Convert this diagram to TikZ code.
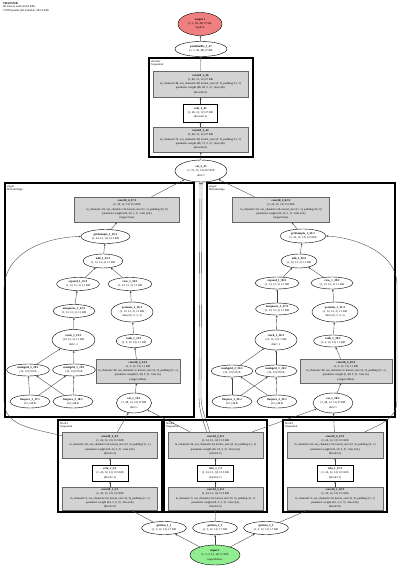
\documentclass[tikz,border=0pt]{standalone}
\usepackage{fontspec}
\setmainfont{Liberation Serif}
\usetikzlibrary{shapes.geometric,arrows.meta,calc}
\definecolor{gfill}{HTML}{D3D3D3}
\definecolor{rfill}{HTML}{F08080}
\definecolor{gnfill}{HTML}{90EE90}
\begin{document}
\begin{tikzpicture}[x=1pt,y=-1pt,
  every node/.style={font=\fontsize{2.9}{4.3}\selectfont, align=center},
  ell/.style={ellipse, draw=black, line width=0.4pt, fill=white, inner sep=0pt},
  gbox/.style={rectangle, draw=black!60, fill=gfill, line width=0.4pt, inner sep=0},
  wbox/.style={rectangle, draw=black, fill=white, line width=0.4pt, inner sep=0.8pt},
  txt/.style={inner sep=0},
  clus/.style={draw=black, line width=1.2pt},
  clab/.style={anchor=north west, inner sep=0, align=left, font=\fontsize{2.9}{3.6}\selectfont},
  edge/.style={draw=black!75, line width=0.35pt, -{Stealth[length=2.2pt,width=1.8pt]}},
]
\path[use as bounding box] (0,0) rectangle (400,567);

% header
\node[clab] (hdr) at (3,2) {\textbf{TRANSWB}\\48 tensors total (433.8 KB)\\72508 params (all trainable, 283.2 KB)};

% clusters
\draw[clus] (149,58) rectangle (253,157);
\node[clab] (declab) at (151,60) {decoder\\Sequential};
\draw[clus] (5,183) rectangle (194,417);
\node[clab] (s1lab) at (7,185) {stage1\\DeformAlign};
\draw[clus] (207,183) rectangle (395,417);
\node[clab] (s2lab) at (209,185) {stage2\\DeformAlign};
\draw[clus] (58,420) rectangle (162,512);
\node[clab] (b1lab) at (60,422) {block1\\Sequential};
\draw[clus] (164,420) rectangle (267,512);
\node[clab] (b2lab) at (166,422) {block2\\Sequential};
\draw[clus] (283,420) rectangle (387,512);
\node[clab] (b3lab) at (285,422) {block3\\Sequential};

% top
\node[ell, fill=rfill, minimum width=44, minimum height=23] (out) at (200,24) {\textbf{output 1}\\(1, 3, 48, 48) 27 KB\\depth:0};
\node[ell, minimum width=52, minimum height=15] (pix) at (201,49) {\textbf{pixelshuffle\_1\_47}\\(1, 3, 48, 48) 27 KB};

% decoder
\node[gbox, minimum width=95, minimum height=26] (dc2) at (200.5,84) {};
\node[txt] (dc2t) at (dc2) {\textbf{conv2d\_3\_46}\\(1, 48, 12, 12) 27 KB\\in\_channels=48, out\_channels=48, kernel\_size=(3, 3), padding=(1, 1)\\parameter weight (48, 48, 3, 3) · bias (48,)\\(decoder.2)};
\node[wbox, minimum width=34, minimum height=18] (dr) at (200.5,113) {\textbf{relu\_2\_45}\\(1, 48, 12, 12) 27 KB\\(decoder.1)};
\node[gbox, minimum width=95, minimum height=25] (dc1) at (200.5,139.5) {};
\node[txt] (dc1t) at (dc1) {\textbf{conv2d\_3\_44}\\(1, 48, 12, 12) 27 KB\\in\_channels=72, out\_channels=48, kernel\_size=(3, 3), padding=(1, 1)\\parameter weight (48, 72, 3, 3) · bias (48,)\\(decoder.0)};
\node[ell, minimum width=52, minimum height=22] (cat2) at (201,171) {\textbf{cat\_2\_43}\\(1, 72, 12, 12) 40.5 KB\\dim=1};

% stage1
\node[gbox, minimum width=105, minimum height=25] (s1c4) at (127,209.5) {};
\node[txt] (s1c4t) at (s1c4) {\textbf{conv2d\_4\_27:1}\\(1, 24, 12, 12) 13.5 KB\\in\_channels=24, out\_channels=24, kernel\_size=(1, 1), padding=(0, 0)\\parameter weight (24, 24, 1, 1) · bias (24,)\\(stage1.fuse)};
\node[ell, minimum width=49, minimum height=14] (s1gs) at (105.5,236.5) {\textbf{gridsample\_1\_26:1}\\(1, 24, 12, 12) 13.5 KB};
\node[ell, minimum width=40, minimum height=14] (s1add) at (103,261) {\textbf{add\_1\_25:1}\\(1, 12, 12, 2) 1.1 KB};
\node[ell, minimum width=43, minimum height=13] (s1exp) at (78,284) {\textbf{expand\_1\_23:1}\\(1, 12, 12, 2) 1.1 KB};
\node[ell, minimum width=44, minimum height=13] (s1view) at (130,284) {\textbf{view\_1\_24:1}\\(1, 12, 12, 2) 1.1 KB};
\node[ell, minimum width=42, minimum height=13] (s1unsq) at (74,311) {\textbf{unsqueeze\_1\_22:1}\\(1, 12, 12, 2) 1.1 KB};
\node[ell, minimum width=42, minimum height=20] (s1perm) at (132,312) {\textbf{permute\_1\_16:1}\\(1, 12, 12, 2) 1.1 KB\\dims=(0, 2, 3, 1)};
\node[ell, minimum width=43, minimum height=21] (s1stack) at (73.5,340) {\textbf{stack\_1\_21:1}\\(12, 12, 2) 1.1 KB\\dim=-1};
\node[ell, minimum width=36, minimum height=13] (s1tanh) at (134,341) {\textbf{tanh\_1\_15:1}\\(1, 2, 12, 12) 1.1 KB};
\node[ell, minimum width=43, minimum height=12] (s1mg1) at (28,370) {\textbf{meshgrid\_2\_20:1}\\(12, 12) 576 B};
\node[ell, minimum width=43, minimum height=12] (s1mg2) at (74,370) {\textbf{meshgrid\_1\_19:1}\\(12, 12) 576 B};
\node[gbox, minimum width=84, minimum height=24] (s1c3) at (138,371) {};
\node[txt] (s1c3t) at (s1c3) {\textbf{conv2d\_3\_14:1}\\(1, 2, 12, 12) 1.1 KB\\in\_channels=48, out\_channels=2, kernel\_size=(3, 3), padding=(1, 1)\\parameter weight (2, 48, 3, 3) · bias (2,)\\(stage1.offset)};
\node[ell, minimum width=40, minimum height=13] (s1lin1) at (30,401.5) {\textbf{linspace\_1\_17:1}\\(12,) 48 B};
\node[ell, minimum width=40, minimum height=13] (s1lin2) at (73,401.5) {\textbf{linspace\_2\_18:1}\\(12,) 48 B};
\node[ell, minimum width=35, minimum height=20] (s1cat) at (134,403) {\textbf{cat\_1\_13:1}\\(1, 48, 12, 12) 27 KB\\dim=1};

% stage2
\node[gbox, minimum width=97, minimum height=25] (s2c4) at (281,209.5) {};
\node[txt] (s2c4t) at (s2c4) {\textbf{conv2d\_4\_42:2}\\(1, 24, 12, 12) 13.5 KB\\in\_channels=24, out\_channels=24, kernel\_size=(1, 1), padding=(0, 0)\\parameter weight (24, 24, 1, 1) · bias (24,)\\(stage2.fuse)};
\node[ell, minimum width=46, minimum height=14] (s2gs) at (303,236) {\textbf{gridsample\_1\_41:2}\\(1, 24, 12, 12) 13.5 KB};
\node[ell, minimum width=36, minimum height=14] (s2add) at (299,261) {\textbf{add\_1\_40:2}\\(1, 12, 12, 2) 1.1 KB};
\node[ell, minimum width=44, minimum height=12] (s2exp) at (277,283) {\textbf{expand\_1\_38:2}\\(1, 12, 12, 2) 1.1 KB};
\node[ell, minimum width=42, minimum height=12] (s2view) at (332,283) {\textbf{view\_1\_39:2}\\(1, 12, 12, 2) 1.1 KB};
\node[ell, minimum width=43, minimum height=12] (s2unsq) at (277,309) {\textbf{unsqueeze\_1\_37:2}\\(1, 12, 12, 2) 1.1 KB};
\node[ell, minimum width=46, minimum height=20] (s2perm) at (335,312) {\textbf{permute\_1\_31:2}\\(1, 12, 12, 2) 1.1 KB\\dims=(0, 2, 3, 1)};
\node[ell, minimum width=42, minimum height=20] (s2stack) at (276,340) {\textbf{stack\_1\_36:2}\\(12, 12, 2) 1.1 KB\\dim=-1};
\node[ell, minimum width=39, minimum height=12] (s2tanh) at (333,341) {\textbf{tanh\_1\_30:2}\\(1, 2, 12, 12) 1.1 KB};
\node[ell, minimum width=42, minimum height=12] (s2mg1) at (232,371) {\textbf{meshgrid\_2\_35:2}\\(12, 12) 576 B};
\node[ell, minimum width=42, minimum height=12] (s2mg2) at (276,371) {\textbf{meshgrid\_1\_34:2}\\(12, 12) 576 B};
\node[gbox, minimum width=92, minimum height=24] (s2c3) at (346,371) {};
\node[txt] (s2c3t) at (s2c3) {\textbf{conv2d\_3\_29:2}\\(1, 2, 12, 12) 1.1 KB\\in\_channels=48, out\_channels=2, kernel\_size=(3, 3), padding=(1, 1)\\parameter weight (2, 48, 3, 3) · bias (2,)\\(stage2.offset)};
\node[ell, minimum width=40, minimum height=13] (s2lin1) at (232,401.5) {\textbf{linspace\_1\_32:2}\\(12,) 48 B};
\node[ell, minimum width=40, minimum height=13] (s2lin2) at (277,401.5) {\textbf{linspace\_2\_33:2}\\(12,) 48 B};
\node[ell, minimum width=40, minimum height=20] (s2cat) at (333,403) {\textbf{cat\_1\_28:2}\\(1, 48, 12, 12) 27 KB\\dim=1};

% blocks
\node[gbox, minimum width=95, minimum height=26] (b1c2) at (110,445) {};
\node[txt] (b1c2t) at (b1c2) {\textbf{conv2d\_2\_4:1}\\(1, 24, 12, 12) 13.5 KB\\in\_channels=24, out\_channels=24, kernel\_size=(3, 3), padding=(1, 1)\\parameter weight (24, 24, 3, 3) · bias (24,)\\(block1.2)};
\node[wbox, minimum width=36, minimum height=16] (b1r) at (110,473) {\textbf{relu\_1\_3:1}\\(1, 24, 12, 12) 13.5 KB\\(block1.1)};
\node[gbox, minimum width=95, minimum height=23] (b1c1) at (110,498.5) {};
\node[txt] (b1c1t) at (b1c1) {\textbf{conv2d\_1\_2:1}\\(1, 24, 12, 12) 13.5 KB\\in\_channels=3, out\_channels=24, kernel\_size=(3, 3), padding=(1, 1)\\parameter weight (24, 3, 3, 3) · bias (24,)\\(block1.0)};

\node[gbox, minimum width=95, minimum height=26] (b2c2) at (215.5,445) {};
\node[txt] (b2c2t) at (b2c2) {\textbf{conv2d\_2\_8:2}\\(1, 24, 12, 12) 13.5 KB\\in\_channels=24, out\_channels=24, kernel\_size=(3, 3), padding=(1, 1)\\parameter weight (24, 24, 3, 3) · bias (24,)\\(block2.2)};
\node[wbox, minimum width=36, minimum height=16] (b2r) at (215.5,473) {\textbf{relu\_1\_7:2}\\(1, 24, 12, 12) 13.5 KB\\(block2.1)};
\node[gbox, minimum width=95, minimum height=23] (b2c1) at (215.5,498.5) {};
\node[txt] (b2c1t) at (b2c1) {\textbf{conv2d\_1\_6:2}\\(1, 24, 12, 12) 13.5 KB\\in\_channels=3, out\_channels=24, kernel\_size=(3, 3), padding=(1, 1)\\parameter weight (24, 3, 3, 3) · bias (24,)\\(block2.0)};

\node[gbox, minimum width=96, minimum height=26] (b3c2) at (335,445) {};
\node[txt] (b3c2t) at (b3c2) {\textbf{conv2d\_2\_12:3}\\(1, 24, 12, 12) 13.5 KB\\in\_channels=24, out\_channels=24, kernel\_size=(3, 3), padding=(1, 1)\\parameter weight (24, 24, 3, 3) · bias (24,)\\(block3.2)};
\node[wbox, minimum width=36, minimum height=16] (b3r) at (335,473) {\textbf{relu\_1\_11:3}\\(1, 24, 12, 12) 13.5 KB\\(block3.1)};
\node[gbox, minimum width=96, minimum height=23] (b3c1) at (335,498.5) {};
\node[txt] (b3c1t) at (b3c1) {\textbf{conv2d\_1\_10:3}\\(1, 24, 12, 12) 13.5 KB\\in\_channels=3, out\_channels=24, kernel\_size=(3, 3), padding=(1, 1)\\parameter weight (24, 3, 3, 3) · bias (24,)\\(block3.0)};

% bottom
\node[ell, minimum width=45, minimum height=13] (gi1) at (164,528) {\textbf{getitem\_1\_1}\\(1, 3, 12, 12) 1.7 KB};
\node[ell, minimum width=45, minimum height=13] (gi2) at (215,528) {\textbf{getitem\_2\_1}\\(1, 3, 12, 12) 1.7 KB};
\node[ell, minimum width=45, minimum height=13] (gi3) at (266,528) {\textbf{getitem\_3\_1}\\(1, 3, 12, 12) 1.7 KB};
\node[ell, fill=gnfill, minimum width=50, minimum height=20] (in) at (215,555) {\textbf{input 1}\\(1, 3, 3, 12, 12) 5.1 KB\\input-frames};

% edges
\foreach \a/\b in {in/gi1,in/gi2,in/gi3,gi1/b1c1,gi2/b2c1,gi3/b3c1,
  b1c1/b1r,b1r/b1c2,b2c1/b2r,b2r/b2c2,b3c1/b3r,b3r/b3c2,
  b1c2/s1cat,b2c2/s1cat,b2c2/s2cat,b3c2/s2cat,
  s1lin1/s1mg1,s1lin1/s1mg2,s1lin2/s1mg1,s1lin2/s1mg2,s1mg1/s1stack,s1mg2/s1stack,
  s1stack/s1unsq,s1unsq/s1exp,s1exp/s1add,s1cat/s1c3,s1c3/s1tanh,s1tanh/s1perm,
  s1perm/s1view,s1view/s1add,s1add/s1gs,s1gs/s1c4,s1c4/cat2,
  s2lin1/s2mg1,s2lin1/s2mg2,s2lin2/s2mg1,s2lin2/s2mg2,s2mg1/s2stack,s2mg2/s2stack,
  s2stack/s2unsq,s2unsq/s2exp,s2exp/s2add,s2cat/s2c3,s2c3/s2tanh,s2tanh/s2perm,
  s2perm/s2view,s2view/s2add,s2add/s2gs,s2gs/s2c4,s2c4/cat2,
  cat2/dc1,dc1/dr,dr/dc2,dc2/pix,pix/out}
  {\draw[edge] (\a) -- (\b);}

\draw[edge] ($(b2c2.north)+(-6,0)$) .. controls (207,420) and (201,412) .. (201,395) -- ($(cat2.south)+(1,0)$);
\draw[edge] ($(b2c2.north)+(-9,0)$) .. controls (204,422) and (199,414) .. (199,395) -- ($(cat2.south)+(-1,0)$);
\draw[edge] ($(b1c2.north west)+(0,4)$) .. controls (30,428) and (4,426) .. (4,400) -- (4,290) .. controls (4,250) and (50,237) .. (s1gs.west);
\draw[edge] ($(b3c2.north)+(30,0)$) .. controls (380,424) and (397,420) .. (397,400) -- (397,285) .. controls (397,250) and (350,237) .. (s2gs.east);
\end{tikzpicture}
\end{document}
